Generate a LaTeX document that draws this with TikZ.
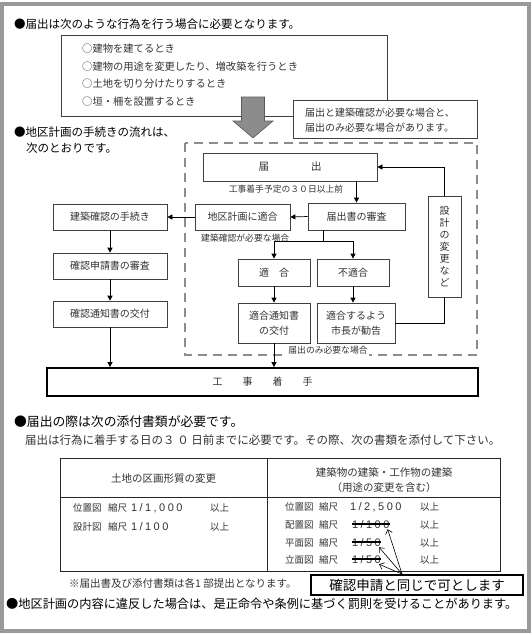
\documentclass[tikz,border=0pt]{standalone}
\usepackage{fontspec}
\setmainfont{Noto Sans CJK JP}
\newfontfamily\numf[LetterSpace=22]{Liberation Sans}
\usetikzlibrary{arrows.meta}
\newcommand\fsz[2]{\fontsize{#1}{#2}\selectfont}
\begin{document}
\begin{tikzpicture}[x=1pt,y=-1pt,
  txt/.style={inner sep=0pt, text=black!80},
  head/.style={inner sep=0pt, anchor=west, font=\fsz{11.5}{13}, text=black},
  fbox/.style={draw=black!75, line width=0.7pt, fill=white, inner sep=1pt, font=\fsz{10}{15}, text=black!80, align=center},
  arr/.style={draw=black, line width=0.7pt, -{Triangle[length=5pt,width=5pt]}},
  plain/.style={draw=black, line width=0.7pt},
  lbl/.style={inner sep=0pt, font=\fsz{8.8}{10}, text=black!80},
  tabtxt/.style={inner sep=0pt, anchor=west, font=\fsz{9.5}{11}, text=black!80},
  num/.style={inner sep=0pt, anchor=west, font=\numf\fsz{11}{13}, text=black!80},
  strike/.style={draw=black, line width=1.1pt},
  openarr/.style={draw=black, line width=0.6pt, -{Straight Barb[length=4pt,width=7pt]}}
]
\useasboundingbox (0,0) rectangle (531,635);
\fill[white] (0,0) rectangle (531,635);
\draw[black!40, line width=4pt] (2,3.5) rectangle (528.5,631);

% ---------- section 1 ----------
\node[head] (h1) at (14,24) {●届出は次のような行為を行う場合に必要となります。};
\node[draw=black!75, line width=0.7pt, minimum width=326pt, minimum height=81pt, inner sep=0pt] (list) at (224,75.5) {};
\node[txt, anchor=west, font=\fsz{10.3}{12}] (i1) at (82,49) {○建物を建てるとき};
\node[txt, anchor=west, font=\fsz{10.3}{12}] (i2) at (82,67) {○建物の用途を変更したり、増改築を行うとき};
\node[txt, anchor=west, font=\fsz{10.3}{12}] (i3) at (82,84) {○土地を切り分けたりするとき};
\node[txt, anchor=west, font=\fsz{10.3}{12}] (i4) at (82,102) {○垣・柵を設置するとき};

\node[draw=black!75, fill=white, line width=0.7pt, minimum width=184pt, minimum height=38pt, inner sep=0pt] (call) at (385,119) {};
\node[txt, anchor=west, font=\fsz{10}{12}] (c1) at (305,113) {届出と建築確認が必要な場合と、};
\node[txt, anchor=west, font=\fsz{10}{12}] (c2) at (305,128) {届出のみ必要な場合があります。};

\draw[fill=black!45, draw=black!65, line width=0.6pt]
  (241.5,97) -- (264.5,97) -- (264.5,121) -- (273,121) -- (253,138) -- (233,121) -- (241.5,121) -- cycle;

% ---------- section 2 ----------
\node[head] (h2) at (14,132) {●地区計画の手続きの流れは、};
\node[head] (h2b) at (26,148) {次のとおりです。};

\draw[black!45, line width=2pt, dash pattern=on 9pt off 6pt] (185,143) rectangle (477,355);

\node[fbox, minimum width=174pt, minimum height=28pt, font=\fsz{10.5}{12}] (todoke) at (290,167) {届　　　　出};
\node[lbl] (l1) at (286,189) {工事着手予定の３０日以上前};
\node[fbox, minimum width=97pt, minimum height=27pt] (shinsa) at (356.5,216.5) {届出書の審査};
\node[fbox, minimum width=95pt, minimum height=26pt] (chiku) at (242.5,217) {地区計画に適合};
\node[lbl, anchor=west] (l2) at (201,238) {建築確認が必要な場合};

\node[fbox, minimum width=114pt, minimum height=26pt] (k1) at (110,217) {建築確認の手続き};
\node[fbox, minimum width=114pt, minimum height=26pt] (k2) at (110,266) {確認申請書の審査};
\node[fbox, minimum width=114pt, minimum height=26pt] (k3) at (110,314) {確認通知書の交付};

\node[fbox, minimum width=72pt, minimum height=27pt] (tekigo) at (274,272.5) {適　合};
\node[fbox, minimum width=72pt, minimum height=27pt] (futekigo) at (353,272.5) {不適合};
\node[fbox, minimum width=72pt, minimum height=40pt] (tsuchi) at (274,323) {適合通知書\\の交付};
\node[fbox, minimum width=78pt, minimum height=40pt] (kankoku) at (356,323) {適合するよう\\市長が勧告};
\node[fbox, minimum width=33pt, minimum height=101pt, font=\fsz{10}{12}] (sekkei) at (444.5,246.5) {設\\計\\の\\変\\更\\な\\ど};

\node[draw=black, line width=1.8pt, fill=white, minimum width=431pt, minimum height=28pt, inner sep=0pt, font=\fsz{10}{12}, text=black!80] (koji) at (262.5,382) {工　　事　　着　　手};

\node[lbl, fill=white, inner sep=1.5pt] (l3) at (328,350) {届出のみ必要な場合};

\coordinate (br) at (323,241);
\draw[arr] (shinsa.north |- todoke.south) -- (shinsa.north);
\draw[arr] (shinsa.west) -- (chiku.east);
\draw[arr] (chiku.west) -- (k1.east);
\draw[arr] (k1.south) -- (k2.north);
\draw[arr] (k2.south) -- (k3.north);
\draw[arr] (k3.south) -- (k3.south |- koji.north);
\draw[plain] (br |- shinsa.south) -- (br);
\draw[arr] (br) -| (tekigo.north);
\draw[arr] (br) -| (futekigo.north);
\draw[arr] (tekigo.south) -- (tsuchi.north);
\draw[arr] (futekigo.south) -- (futekigo.south |- kankoku.north);
\draw[arr] (tsuchi.south) -- (tsuchi.south |- koji.north);
\draw[plain] (kankoku.east) -| (sekkei.south);
\draw[arr] (sekkei.north) |- (todoke.east);

% ---------- section 3 ----------
\node[head, font=\fsz{12.8}{14}] (h3) at (14,422) {●届出の際は次の添付書類が必要です。};
\node[txt, anchor=west, font=\fsz{11.5}{13}] (sub) at (25,440) {届出は行為に着手する日の３ ０ 日前までに必要です。その際、次の書類を添付して下さい。};

\draw[black!85, line width=0.7pt] (60,458) rectangle (500,571);
\draw[black!85, line width=0.7pt] (267,458) -- (267,571);
\draw[black!85, line width=0.7pt] (60,497) -- (500,497);

\node[txt, font=\fsz{10.5}{12}] (th1) at (163.5,479) {土地の区画形質の変更};
\node[txt, font=\fsz{10.5}{12}] (th2) at (384,472) {建築物の建築・工作物の建築};
\node[txt, font=\fsz{10.5}{12}] (th3) at (384,488) {（用途の変更を含む）};

\node[tabtxt] (a1) at (73,508) {位置図};
\node[tabtxt] (a2) at (108,508) {縮尺};
\node[num] (a3) at (131,508) {1/1,000};
\node[tabtxt] (a4) at (210,508) {以上};
\node[tabtxt] (b1) at (73,527) {設計図};
\node[tabtxt] (b2) at (108,527) {縮尺};
\node[num] (b3) at (131,527) {1/100};
\node[tabtxt] (b4) at (210,527) {以上};

\node[tabtxt] (c1r) at (285,507) {位置図};
\node[tabtxt] (c2r) at (319,507) {縮尺};
\node[num] (c3r) at (350,507) {1/2,500};
\node[tabtxt] (c4r) at (420,507) {以上};
\node[tabtxt] (d1) at (285,525) {配置図};
\node[tabtxt] (d2) at (319,525) {縮尺};
\node[num] (d3) at (352,525) {1/100};
\node[tabtxt] (d4) at (420,525) {以上};
\node[tabtxt] (e1) at (285,543) {平面図};
\node[tabtxt] (e2) at (319,543) {縮尺};
\node[num] (e3) at (352,543) {1/50};
\node[tabtxt] (e4) at (420,543) {以上};
\node[tabtxt] (f1) at (285,560) {立面図};
\node[tabtxt] (f2) at (319,560) {縮尺};
\node[num] (f3) at (352,560) {1/50};
\node[tabtxt] (f4) at (420,560) {以上};

\draw[strike] ([yshift=1pt]d3.west) -- ([yshift=1pt]d3.east);
\draw[strike] ([yshift=1pt]e3.west) -- ([yshift=1pt]e3.east);
\draw[strike] ([yshift=1pt]f3.west) -- ([yshift=1pt]f3.east);

\node[txt, anchor=west, font=\fsz{10.5}{12}] (note) at (69,583) {※届出書及び添付書類は各1 部提出となります。};

\node[draw=black, line width=1.2pt, fill=white, minimum width=212pt, minimum height=20pt, inner sep=0pt, font=\fsz{13.5}{15}, text=black] (conf) at (417,585) {確認申請と同じで可とします};

\coordinate (conv) at (402,574);
\draw[openarr] (conv) -- ([xshift=-2pt]d3.south east);
\draw[openarr] (conv) -- ([xshift=-2pt]e3.south east);
\draw[openarr] (conv) -- ([xshift=-2pt]f3.south east);

\node[head, font=\fsz{12.2}{14}] (h4) at (6,604) {●地区計画の内容に違反した場合は、是正命令や条例に基づく罰則を受けることがあります。};
\end{tikzpicture}
\end{document}
